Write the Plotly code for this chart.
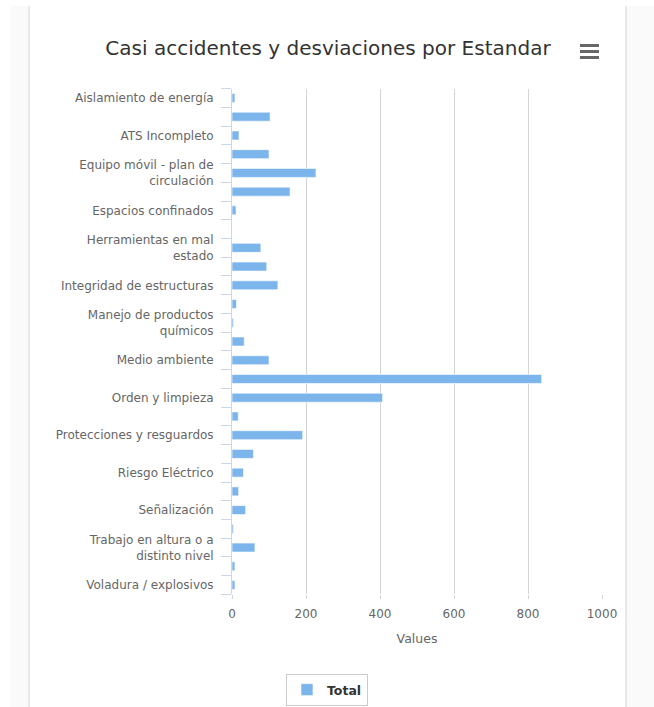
import plotly.graph_objects as go

W, H = 654, 707

categories = [
    "Aislamiento de energía", "Andamios", "ATS Incompleto", "Caída de objetos",
    "Equipo móvil - plan de circulación", "Equipos de protección personal",
    "Espacios confinados", "Excavaciones", "Herramientas en mal estado",
    "Iluminación", "Integridad de estructuras", "Izaje de cargas",
    "Manejo de productos químicos", "Manejo manual de cargas", "Medio ambiente",
    "Operación de equipos", "Orden y limpieza", "Otros",
    "Protecciones y resguardos", "Respuesta a emergencias", "Riesgo Eléctrico",
    "Ruido", "Señalización", "Sustancias peligrosas",
    "Trabajo en altura o a distinto nivel", "Vehículos livianos",
    "Voladura / explosivos",
]
values = [8, 103, 19, 100, 227, 157, 11, 0, 78, 94, 124, 12, 4, 33, 100,
          837, 407, 17, 191, 58, 31, 18, 37, 4, 62, 8, 8]

# displayed tick labels (the chart only shows every other category label)
tick_labels = [
    "Aislamiento de energía", "", "ATS Incompleto", "",
    "Equipo móvil - plan de<br>circulación", "", "Espacios confinados", "",
    "Herramientas en mal<br>estado", "", "Integridad de estructuras", "",
    "Manejo de productos<br>químicos", "", "Medio ambiente", "",
    "Orden y limpieza", "", "Protecciones y resguardos", "",
    "Riesgo Eléctrico", "", "Señalización", "",
    "Trabajo en altura o a<br>distinto nivel", "", "Voladura / explosivos",
]
x_ticks = [0, 200, 400, 600, 800, 1000]

FONT = "DejaVu Sans"

fig = go.Figure()
fig.add_trace(go.Bar(
    y=categories, x=values, orientation="h", name="Total",
    marker=dict(color="#7cb5ec", line=dict(color="rgba(255,255,255,0.6)", width=1)),
    showlegend=True,
))

def px_x(p):
    return p / W

def px_y(p):
    return 1 - p / H

shapes = [
    # side strips of the page
    dict(type="rect", xref="paper", yref="paper", x0=px_x(11), x1=px_x(28), y0=0, y1=px_y(6),
         fillcolor="#fafafa", line=dict(width=0), layer="below"),
    dict(type="rect", xref="paper", yref="paper", x0=px_x(28), x1=px_x(30), y0=0, y1=px_y(6),
         fillcolor="#e8e8e8", line=dict(width=0), layer="below"),
    dict(type="rect", xref="paper", yref="paper", x0=px_x(625), x1=px_x(627), y0=0, y1=px_y(6),
         fillcolor="#e8e8e8", line=dict(width=0), layer="below"),
    dict(type="rect", xref="paper", yref="paper", x0=px_x(627), x1=1, y0=0, y1=px_y(6),
         fillcolor="#fafafa", line=dict(width=0), layer="below"),
]
# hamburger menu icon
for yy in (45.5, 51.5, 57.5):
    shapes.append(dict(type="line", xref="paper", yref="paper",
                       x0=px_x(580), x1=px_x(599), y0=px_y(yy), y1=px_y(yy),
                       line=dict(color="#666666", width=3)))

fig.update_layout(
    width=W, height=H,
    margin=dict(l=0, r=0, t=0, b=0),
    paper_bgcolor="white", plot_bgcolor="white",
    font=dict(family=FONT, color="#666666", size=12),
    title=dict(text="Casi accidentes y desviaciones por Estandar",
               x=px_x(328), xanchor="center", y=px_y(48), yanchor="middle",
               font=dict(family=FONT, size=20, color="#333333")),
    bargap=0.52,
    xaxis=dict(
        domain=[px_x(232), px_x(602)], range=[0, 1000],
        tickvals=x_ticks, ticktext=[str(v) for v in x_ticks],
        showgrid=True, gridcolor="#d4d4d4", gridwidth=1,
        zeroline=False, showline=False,
        ticks="outside", ticklen=4, tickcolor="#d4d4d4",
        ticklabelstandoff=4,
        tickfont=dict(size=12, color="#666666"),
        title=dict(text="Values", standoff=14, font=dict(size=12.5, color="#666666")),
        automargin=False, fixedrange=True,
    ),
    yaxis=dict(
        domain=[px_y(594.4), px_y(88.6)],
        type="category", categoryorder="array", categoryarray=categories,
        autorange="reversed",
        tickvals=categories, ticktext=tick_labels,
        tickson="boundaries", ticks="outside", ticklen=10, tickcolor="#ccd6eb",
        showline=True, linecolor="#ccd6eb", linewidth=1,
        showgrid=False, zeroline=False,
        tickfont=dict(size=12, color="#666666"),
        ticklabelstandoff=15,
        automargin=False, fixedrange=True,
    ),
    legend=dict(
        orientation="h", x=px_x(327), xanchor="center", y=px_y(674), yanchor="top",
        bordercolor="#cccccc", borderwidth=1, bgcolor="white",
        font=dict(family=FONT, size=12.5, color="#333333", weight="bold"),
    ),
    shapes=shapes,
)

fig.write_html("out.html", config={"displayModeBar": False},
               post_script="document.body.style.margin='0';document.body.style.overflow='hidden';")
